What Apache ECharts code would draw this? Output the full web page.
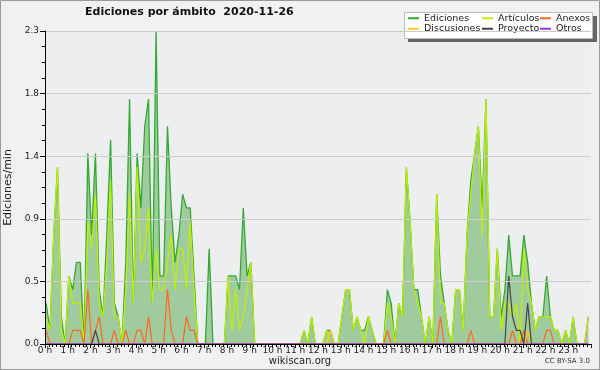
<!DOCTYPE html>
<html><head><meta charset="utf-8">
<script src="https://cdn.jsdelivr.net/npm/echarts@6/dist/echarts.min.js"></script>
<style>html,body{margin:0;padding:0;background:#f1f1f1}#c{width:600px;height:370px}</style>
</head><body><div id="c"></div>
<script>
const titleText = 'Ediciones por ámbito  2020-11-26';
const yAxisName = 'Ediciones/min';
const seriesNames = ['Ediciones','Artículos','Anexos','Discusiones','Proyecto','Otros'];
const slotMinutes = 10; // one value every 10 minutes, 144 per day
const slotOffset = 3;   // minutes into each slot where the point is drawn
const yTicks = [0, 0.46, 0.92, 1.38, 1.84, 2.3];

const ediciones = [0.3,0.1,0.8,1.3,0.2,0,0.5,0.4,0.6,0.6, 0,1.4,0.8,1.4,0.4,0.2,0.8,1.5,0.3,0.2,
 0,0.6,1.8,0.3,1.4,1.0,1.6,1.8,0.3,2.3, 0.5,0.5,1.6,1.0,0.6,0.8,1.1,1.0,1.0,0.5,
 0,0,0,0.7,0,0,0,0,0.5,0.5, 0.5,0.4,1.0,0.5,0.6,0,0,0,0,0,
 0,0,0,0,0,0,0,0,0.1,0, 0.2,0,0,0,0.1,0.1,0,0,0.2,0.4,
 0.4,0.1,0.2,0.1,0.1,0.2,0.1,0,0,0, 0.4,0.3,0,0.3,0.2,1.3,0.9,0.4,0.4,0.2,
 0,0.2,0,1.1,0.5,0.3,0.1,0,0.4,0.4, 0.1,0.8,1.2,1.4,1.6,1.0,1.8,0.2,0.2,0.7,
 0.2,0.4,0.8,0.5,0.5,0.5,0.8,0.6,0.3,0.1, 0.2,0.2,0.5,0.2,0.1,0.1,0,0.1,0,0.2,
 0,0,0,0.2];
const articulos = [0.2,0.1,0.8,1.3,0.1,0,0.5,0.3,0.3,0.3, 0,0.9,0.7,1.1,0.3,0.2,0.6,1.2,0.2,0.2,
 0,0.4,1.1,0.3,1.3,0.6,0.7,1.0,0.3,0.7, 0.4,0.4,0.6,0.8,0.4,0.7,0.7,0.4,0.9,0.4,
 0,0,0,0,0,0,0,0,0.5,0.1, 0.4,0.1,0.2,0.4,0.6,0,0,0,0,0,
 0,0,0,0,0,0,0,0,0.1,0, 0.2,0,0,0,0.1,0,0,0,0.2,0.4,
 0.4,0.1,0.2,0.1,0,0.2,0.1,0,0,0, 0.3,0.2,0,0.3,0.2,1.3,0.9,0.4,0.3,0.2,
 0,0.2,0,1.1,0.3,0.3,0.1,0,0.4,0.4, 0.1,0.8,1.1,1.4,1.6,0.8,1.8,0.2,0.2,0.7,
 0.1,0.3,0.3,0.2,0.3,0,0.7,0.4,0.3,0.1, 0.2,0.2,0.2,0.2,0.1,0.1,0,0.1,0,0.2,
 0,0,0,0];
const anexos = [0.1,0,0,0,0,0,0,0.1,0.1,0.1, 0,0.4,0,0.1,0.2,0,0,0,0.1,0,
 0,0.1,0,0,0.1,0.1,0,0.2,0,0, 0,0,0.4,0.1,0,0,0,0.2,0.1,0.1,
 0,0,0,0,0,0,0,0,0,0, 0,0,0,0,0,0,0,0,0,0,
 0,0,0,0,0,0,0,0,0,0, 0,0,0,0,0,0,0,0,0,0,
 0,0,0,0,0,0,0,0,0,0, 0.1,0,0,0,0,0,0,0,0,0,
 0,0,0,0,0.2,0,0,0,0,0, 0,0,0.1,0,0,0,0,0,0,0,
 0,0,0,0.1,0,0,0.1,0,0,0, 0,0,0.1,0.1,0,0,0,0,0,0,
 0,0,0,0];
const discusiones = new Array(144).fill(0);
discusiones[75] = 0.1; discusiones[127] = 0.1; discusiones[143] = 0.2;
const proyecto = new Array(144).fill(0);
proyecto[13] = 0.1; proyecto[122] = 0.5; proyecto[123] = 0.2; proyecto[124] = 0.1; proyecto[125] = 0.1; proyecto[127] = 0.3;
const otros = new Array(144).fill(0);

const colors = ['#33aa33','#c0f000','#ff6620','#ffcc22','#444444','#9933ee'];
const FONT = "'DejaVu Sans',sans-serif";

const allData = [ediciones, articulos, anexos, discusiones, proyecto, otros];
const toPairs = arr => arr.map((v, i) => [i * slotMinutes + slotOffset, v]);

const series = allData.map((arr, k) => {
  const s = {
    name: seriesNames[k], type: 'line', data: toPairs(arr), showSymbol: false, symbol: 'none',
    color: colors[k], lineStyle: {width: 1.2, color: colors[k]}, z: 2 + k, animation: false
  };
  if (k === 0) { s.areaStyle = {color: '#9fcb9f', opacity: 1}; s.lineStyle.width = 1.3; }
  return s;
});

const chart = echarts.init(document.getElementById('c'), null, {renderer: 'canvas'});
const legendBase = {orient: 'vertical', top: 13, itemGap: 0, itemWidth: 11, itemHeight: 2, icon: 'rect', z: 10,
  padding: 0, textStyle: {fontSize: 9.5, fontFamily: FONT, color: '#222', lineHeight: 10.5, padding: [0,0,0,0]}, selectedMode: false};
chart.setOption({
  backgroundColor: '#f1f1f1',
  animation: false,
  title: {text: titleText, left: 85, top: 7, padding: 0, textStyle: {fontSize: 11, fontWeight: 'bold', fontFamily: FONT, color: '#111'}},
  legend: [
    Object.assign({}, legendBase, {left: 408, data: [seriesNames[0], seriesNames[3]]}),
    Object.assign({}, legendBase, {left: 482, data: [seriesNames[1], seriesNames[4]]}),
    Object.assign({}, legendBase, {left: 540, data: [seriesNames[2], seriesNames[5]]})
  ],
  grid: {left: 45, right: 9, top: 31, bottom: 26, show: true, backgroundColor: '#eceef0', borderWidth: 0,
    containLabel: false, outerBoundsMode: 'none'},
  xAxis: {
    type: 'value', min: 0, max: 1440, interval: 60, z: 20,
    axisLine: {lineStyle: {color: '#000', width: 1}},
    axisTick: {show: true, length: 4, lineStyle: {color: '#000'}},
    minorTick: {show: true, splitNumber: 6, length: 3, lineStyle: {color: '#000'}},
    splitLine: {show: false},
    axisLabel: {fontSize: 9, fontFamily: FONT, color: '#222', margin: 2,
      formatter: v => v < 1440 ? (v / 60) + ' h' : ''}
  },
  yAxis: {
    type: 'value', min: 0, max: yTicks[yTicks.length - 1], interval: yTicks[1], z: 20,
    name: yAxisName, nameLocation: 'middle', nameGap: 31, nameRotate: 90,
    nameTextStyle: {fontSize: 11, fontFamily: FONT, color: '#222'},
    axisLine: {show: true, lineStyle: {color: '#000'}},
    axisTick: {show: true, length: 5, lineStyle: {color: '#000'}},
    minorTick: {show: true, splitNumber: 4, length: 3, lineStyle: {color: '#000'}},
    splitLine: {show: true, lineStyle: {color: '#cccccc', width: 1}},
    axisLabel: {fontSize: 9, fontFamily: FONT, color: '#222', margin: 6, formatter: v => v.toFixed(1)}
  },
  graphic: [
    {type: 'rect', shape: {x: 0.5, y: 0.5, width: 599, height: 369}, style: {fill: 'none', stroke: '#9a9a9a', lineWidth: 1}, z: 100},
    {type: 'rect', shape: {x: 408, y: 16, width: 189, height: 26}, style: {fill: '#666'}, z: 1},
    {type: 'rect', shape: {x: 404.5, y: 12.5, width: 188, height: 26}, style: {fill: '#ffffff', stroke: '#bbb'}, z: 2},
    {type: 'text', left: 'center', top: 356, style: {text: 'wikiscan.org', fontSize: 10, fontFamily: FONT, fill: '#222'}, z: 5},
    {type: 'text', right: 10, top: 358, style: {text: 'CC BY-SA 3.0', fontSize: 7, fontFamily: FONT, fill: '#333'}, z: 5}
  ],
  series: series
});
</script></body></html>
